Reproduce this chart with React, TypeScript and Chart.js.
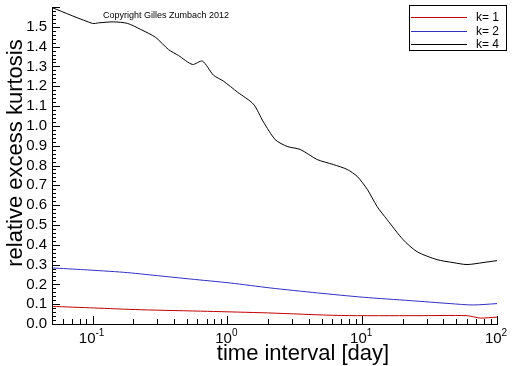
import React, { useEffect, useRef } from 'react';
import { Chart, registerables } from 'chart.js';

Chart.register(...registerables);

// ---- data ----
const seriesLabels = ['k= 1', 'k= 2', 'k= 4'];
const seriesColors = ['#c00000', '#3030c0', '#000000'];

const k1Times = [0.05, 0.102, 0.227, 0.711, 1.98, 6.87, 25.5, 59.9, 74.8, 100];
const k1Values = [0.089, 0.081, 0.072, 0.064, 0.056, 0.043, 0.042, 0.042, 0.03, 0.035];

const k2Times = [0.05, 0.0858, 0.17, 0.303, 0.532, 1.05, 2.08, 4.64, 10.2, 22.7, 44.9, 66.4, 100];
const k2Values = [0.283, 0.274, 0.261, 0.244, 0.227, 0.207, 0.182, 0.157, 0.135, 0.118, 0.103, 0.096, 0.103];

const k4Times = [0.05, 0.1, 0.111, 0.143, 0.182, 0.227, 0.293, 0.366, 0.434, 0.551, 0.653, 0.788, 0.934, 1.19, 1.56, 1.85, 2.27, 2.78, 3.47, 4.64, 6.1, 7.74, 9.18, 10.9, 12.9, 15.3, 20.1, 25.5, 35.9, 47.2, 59.9, 78.7, 100];
const k4Values = [1.597, 1.517, 1.52, 1.525, 1.517, 1.487, 1.447, 1.385, 1.355, 1.31, 1.327, 1.256, 1.226, 1.17, 1.11, 1.02, 0.93, 0.896, 0.881, 0.83, 0.805, 0.78, 0.745, 0.68, 0.593, 0.527, 0.426, 0.365, 0.325, 0.31, 0.3, 0.31, 0.32];

const xMin = 0.05;
const xMax = 100;
const yMin = 0;
const yMax = 1.6;
const yStep = 0.1;
const xTickExponents = [-1, 0, 1, 2];

const xTitle = 'time interval [day]';
const yTitle = 'relative excess kurtosis';
const copyright = 'Copyright Gilles Zumbach 2012';

const FONT = '"Liberation Sans", Arial, Helvetica, sans-serif';

const toPoints = (xs: number[], ys: number[]) => xs.map((x, i) => ({ x, y: ys[i] }));

const decorPlugin = {
  id: 'decor',
  afterDraw(chart: any) {
    const { ctx, chartArea: a, scales } = chart;
    const xs = scales.x;
    const ys = scales.y;
    ctx.save();
    ctx.strokeStyle = '#000';
    ctx.lineWidth = 1;
    // axis lines
    ctx.beginPath();
    ctx.moveTo(a.left + 0.5, a.top);
    ctx.lineTo(a.left + 0.5, a.bottom + 0.5);
    ctx.lineTo(a.right + 1, a.bottom + 0.5);
    ctx.stroke();
    // y ticks (inward)
    ctx.beginPath();
    const nMinor = Math.round((yMax - yMin) / 0.02);
    for (let i = 0; i <= nMinor; i++) {
      const v = yMin + i * 0.02;
      const py = Math.round(ys.getPixelForValue(v)) + 0.5;
      const len = i % 5 === 0 ? 8 : 4;
      ctx.moveTo(a.left, py);
      ctx.lineTo(a.left + len, py);
    }
    // x ticks (inward)
    for (let e = -2; e <= 2; e++) {
      for (let k = 1; k <= 9; k++) {
        const v = k * Math.pow(10, e);
        if (v < xMin * 0.999 || v > xMax * 1.001) continue;
        const px = Math.round(xs.getPixelForValue(v)) + 0.5;
        const len = k === 1 ? 8 : 5;
        ctx.moveTo(px, a.bottom);
        ctx.lineTo(px, a.bottom - len);
      }
    }
    ctx.stroke();

    // x tick labels 10^e
    ctx.fillStyle = '#000';
    ctx.textBaseline = 'alphabetic';
    ctx.textAlign = 'left';
    xTickExponents.forEach((e) => {
      const px = xs.getPixelForValue(Math.pow(10, e));
      ctx.font = `15px ${FONT}`;
      const w1 = ctx.measureText('10').width;
      ctx.font = `10px ${FONT}`;
      const es = String(e);
      const w2 = ctx.measureText(es).width;
      const start = px - (w1 + w2) / 2 - 1;
      ctx.font = `15px ${FONT}`;
      ctx.fillText('10', start, 343);
      ctx.font = `10px ${FONT}`;
      ctx.fillText(es, start + w1, 336);
    });

    // axis titles
    ctx.font = `22px ${FONT}`;
    ctx.textAlign = 'center';
    ctx.fillText(xTitle, 303, 360);
    ctx.save();
    ctx.translate(22, 153);
    ctx.rotate(-Math.PI / 2);
    ctx.fillText(yTitle, 0, 0);
    ctx.restore();

    // copyright
    ctx.font = `9px ${FONT}`;
    ctx.textAlign = 'left';
    ctx.textBaseline = 'middle';
    ctx.fillText(copyright, 103, 16);

    // legend
    ctx.fillStyle = '#fff';
    ctx.fillRect(410, 6, 96, 44);
    ctx.strokeStyle = '#000';
    ctx.strokeRect(409.5, 5.5, 97, 45);
    const rows = [17, 31, 44];
    seriesLabels.forEach((label, i) => {
      ctx.fillStyle = seriesColors[i];
      ctx.fillRect(411, rows[i], 56, 1);
      ctx.fillStyle = '#000';
      ctx.font = `12px ${FONT}`;
      ctx.textAlign = 'right';
      ctx.textBaseline = 'middle';
      ctx.fillText(label, 499, rows[i] + 1);
    });
    ctx.restore();
  },
};

export default function App() {
  const canvasRef = useRef<HTMLCanvasElement | null>(null);

  useEffect(() => {
    const canvas = canvasRef.current;
    if (!canvas) return;
    const chart = new Chart(canvas, {
      type: 'line',
      data: {
        datasets: [
          { label: seriesLabels[0], data: toPoints(k1Times, k1Values), borderColor: seriesColors[0] },
          { label: seriesLabels[1], data: toPoints(k2Times, k2Values), borderColor: seriesColors[1] },
          { label: seriesLabels[2], data: toPoints(k4Times, k4Values), borderColor: seriesColors[2] },
        ].map((d) => ({ ...d, borderWidth: 1, pointRadius: 0, tension: 0.25, fill: false })),
      },
      options: {
        responsive: false,
        animation: false,
        devicePixelRatio: 1,
        layout: { padding: { top: 7, right: 15, left: 0, bottom: 0 } },
        plugins: { legend: { display: false }, tooltip: { enabled: false }, title: { display: false } },
        scales: {
          x: {
            type: 'logarithmic',
            min: xMin,
            max: xMax,
            grid: { display: false, drawTicks: false },
            border: { display: false },
            ticks: { display: false },
            afterFit: (s: any) => {
              s.height = 42;
              s.paddingLeft = 0;
              s.paddingRight = 0;
            },
          },
          y: {
            type: 'linear',
            min: yMin,
            max: yMax,
            grid: { display: false, drawTicks: false },
            border: { display: false },
            ticks: {
              stepSize: yStep,
              autoSkip: false,
              padding: 5,
              color: '#000',
              font: { family: FONT, size: 15 },
              callback: (v: any) => (Number(v) > 1.55 ? '' : Number(v).toFixed(1)),
            },
            afterFit: (s: any) => {
              s.width = 52;
              s.paddingTop = 0;
              s.paddingBottom = 0;
            },
          },
        },
      },
      plugins: [decorPlugin],
    } as any);
    return () => chart.destroy();
  }, []);

  return (
    <div style={{ position: 'absolute', left: 0, top: 0, width: 512, height: 366, background: '#fff' }}>
      <canvas ref={canvasRef} width={512} height={366} style={{ display: 'block' }} />
    </div>
  );
}
